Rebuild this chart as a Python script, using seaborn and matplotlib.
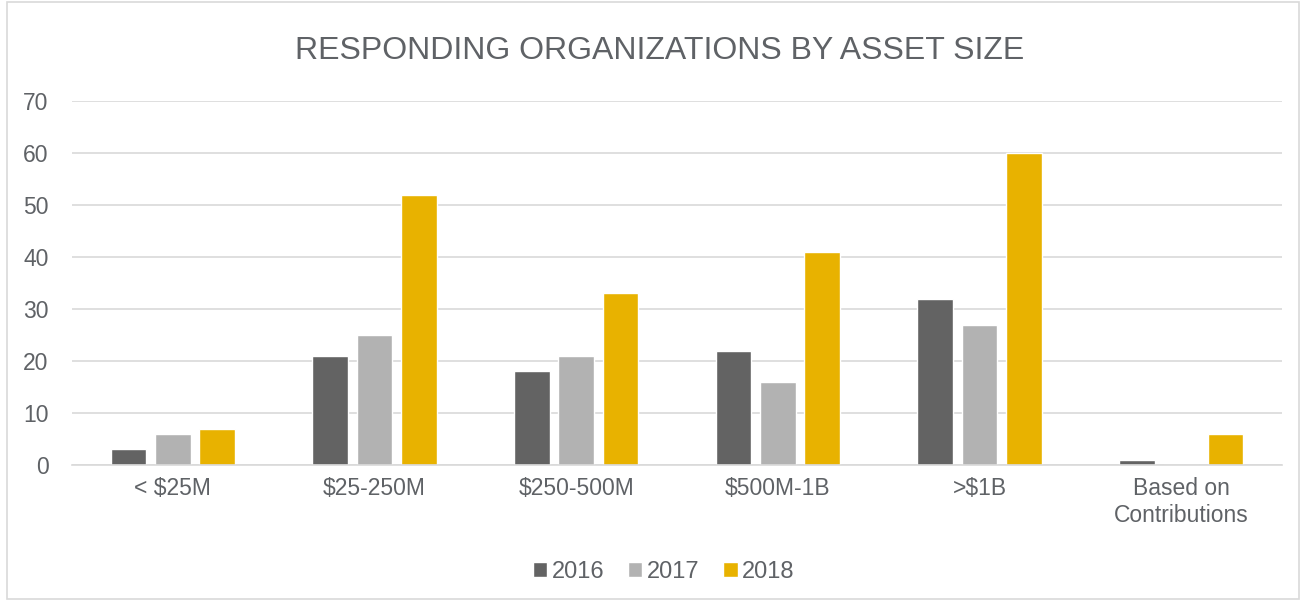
import pandas as pd
import matplotlib.pyplot as plt
import seaborn as sns
from matplotlib.patches import Rectangle

# Data
categories = ["< $25M", "$25-250M", "$250-500M", "$500M-1B", ">$1B", "Based on\nContributions"]
years = ["2016", "2017", "2018"]
v2016 = [3, 21, 18, 22, 32, 1]
v2017 = [6, 25, 21, 16, 27, 0]
v2018 = [7, 52, 33, 41, 60, 6]

df = pd.DataFrame({
    "Category": categories * 3,
    "Year": [y for y in years for _ in categories],
    "Count": v2016 + v2017 + v2018,
})

sns.set_style("white")
plt.rcParams['font.family'] = ['Liberation Sans', 'DejaVu Sans']
text_col = "#5f6266"

fig = plt.figure(figsize=(13.02, 6.01), dpi=100)
ax = fig.add_axes([0.0553, 0.2263, 0.9293, 0.6057])

palette = {"2016": "#636363", "2017": "#b2b2b2", "2018": "#e8b200"}
sns.barplot(data=df, x="Category", y="Count", hue="Year", palette=palette,
            width=0.66, gap=0.2, ax=ax, saturation=1)

ax.set_ylim(0, 70)
ax.set_yticks(range(0, 71, 10))
ax.yaxis.grid(True, color="#d9d9d9", linewidth=1.2)
ax.set_axisbelow(True)
for s in ["top", "right", "left"]:
    ax.spines[s].set_visible(False)
ax.spines["bottom"].set_color("#d9d9d9")
ax.spines["bottom"].set_linewidth(1.2)
ax.set_xlabel("")
ax.set_ylabel("")
ax.tick_params(axis="both", length=0, labelsize=16.5, colors=text_col)
ax.tick_params(axis="x", pad=9)
ax.tick_params(axis="y", pad=17)

fig.suptitle("RESPONDING ORGANIZATIONS BY ASSET SIZE", x=0.507, y=0.915,
             fontsize=23, color=text_col, va="center")

ax.legend(loc="center", bbox_to_anchor=(0.51, 0.048), bbox_transform=fig.transFigure,
          ncol=3, frameon=False, fontsize=17, labelcolor=text_col,
          handlelength=0.6, handleheight=0.6, handletextpad=0.2, columnspacing=1.0)

fig.patches.append(Rectangle((0.005, 0.003), 0.993, 0.994, transform=fig.transFigure,
                             fill=False, edgecolor="#d9d9d9", linewidth=1.2))

plt.savefig("out.png", dpi=100)
